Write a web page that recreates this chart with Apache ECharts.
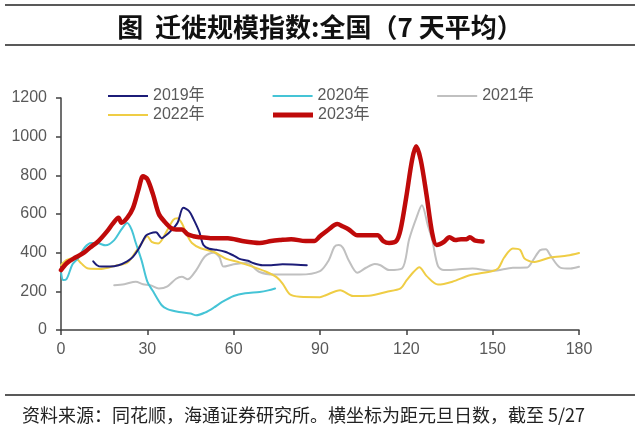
<!DOCTYPE html>
<html><head><meta charset="utf-8">
<script src="https://cdn.jsdelivr.net/npm/echarts@6/dist/echarts.min.js"></script>
<style>html,body{margin:0;padding:0;background:#fff}#c{width:640px;height:429px}</style>
</head><body><div id="c"></div>
<script>
const titleText = '图  迁徙规模指数:全国（7 天平均）';
const footerText = '资料来源：同花顺，海通证券研究所。横坐标为距元旦日数，截至 5/27';
const seriesNames = ['2019年','2020年','2021年','2022年','2023年'];

const days2019 = [11.2,12.5,14,17,20,23,25,27,29.5,31,33,35,36.5,38,40.5,42.5,44.5,46,48,49.5,51.5,54,57,60,62,65,67,70,73,77,82,85.4];
const vals2019 = [355,335,328,328,335,355,378,420,488,500,505,475,490,510,555,632,615,575,510,440,420,415,405,385,368,358,345,335,335,340,338,335];

const days2020 = [0,0.8,2,4,6,8.3,10.5,12.5,15.5,18.5,21,23,24.5,26,28,30,32,35,37,41,45,47,50,53,56,60,64,69,72,74.4];
const vals2020 = [300,258,265,340,372,428,450,450,438,465,520,553,520,450,360,250,200,128,108,93,85,76,90,115,145,176,190,197,205,215];

const days2021 = [18.5,22,26,28.5,31,34,37,40,42,44,47,50,53,55,56.5,60,64.5,69,74,83,90,93,95,96.5,98,100,103,106,109,111,114,118.5,121,123.5,125.4,127.5,129,131,133,137.5,143,150,157,162,164,166.5,168.5,170,173.5,177,180];
const vals2021 = [232,237,250,237,232,215,226,265,275,262,310,380,400,378,328,340,347,300,287,287,305,360,430,440,425,360,296,322,342,335,310,318,470,580,645,540,465,330,310,313,318,306,322,323,360,413,418,387,323,318,327];

const days2022 = [0,2,5,7,9.5,14,19,23,26,28,30,31.5,33.8,36.5,39,40.5,42,43.7,45.5,48.5,53,57.5,62,67,71.5,75,77,79.5,83,90,92,97,101.5,107,113,118,120,122.5,124.5,127,131,136,142,150,152,154,157,159.5,161,163,164.5,170,176,180];
const vals2022 = [335,362,372,345,318,316,333,348,405,448,485,456,448,505,570,578,552,495,450,423,405,368,350,325,300,272,240,185,172,170,180,206,176,177,197,215,255,300,325,280,235,250,283,305,320,375,422,415,370,355,352,375,385,398];

const days2023 = [0,2,5,8,10,13,16,18,20,21,23,25,27,28.5,30,32,34,36,38,40,42,44,46,48,52,58,63,69,73,76,80,85,88,90,93,96,98,100,103,106,110,112,114,116.5,118,120,122,123.4,125,127,129,130.5,133,135,137,139,141,142,144,146.5];
const vals2023 = [310,345,375,400,425,460,510,550,580,555,580,630,730,795,780,700,600,560,530,520,520,495,485,480,475,475,460,450,460,465,470,460,460,485,520,548,535,520,490,490,490,460,450,460,520,690,880,950,880,700,500,440,455,480,465,470,470,480,462,458];

const xTicks = {min:0, max:180, interval:30};
const yTicks = {min:0, max:1200, interval:200};

function zip(xs, ys){ return xs.map((x,i)=>[x, ys[i]]); }

const colors = {'2019年':'#1c1c78','2020年':'#45c4d6','2021年':'#c0c0c0','2022年':'#efcd45','2023年':'#bf0a0a'};
const widths = {'2019年':2,'2020年':2,'2021年':2,'2022年':2,'2023年':4.5};
const dataMap = {
  '2019年': zip(days2019, vals2019),
  '2020年': zip(days2020, vals2020),
  '2021年': zip(days2021, vals2021),
  '2022年': zip(days2022, vals2022),
  '2023年': zip(days2023, vals2023)
};
const drawOrder = ['2021年','2022年','2020年','2019年','2023年'];

const chart = echarts.init(document.getElementById('c'), null, {renderer:'canvas'});
const labelFont = {fontFamily:'Liberation Sans, Arial, Noto Sans CJK SC', fontSize:16, color:'#595959'};
const legendCommon = {
  icon:'rect', itemWidth:40, itemHeight:2, itemGap:68,
  textStyle: labelFont, orient:'horizontal', padding:0
};
chart.setOption({
  animation:false,
  backgroundColor:'#fff',
  title:[
    {text:titleText, left:'center', top:9, textStyle:{fontFamily:'Noto Sans CJK SC', fontWeight:'bold', fontSize:26, color:'#111'}},
    {text:footerText, left:17, top:401, textStyle:{fontFamily:'Noto Sans CJK SC', fontWeight:'normal', fontSize:18, color:'#222'}}
  ],
  legend:[
    Object.assign({}, legendCommon, {left:108, top:88, data:['2019年','2020年','2021年']}),
    Object.assign({}, legendCommon, {left:108, top:107, data:['2022年']}),
    Object.assign({}, legendCommon, {left:273, top:107, itemHeight:5, data:['2023年']})
  ],
  grid:{left:61, right:61, top:98, bottom:99, containLabel:false},
  xAxis:{type:'value', min:xTicks.min, max:xTicks.max, interval:xTicks.interval,
    axisLine:{show:true, onZero:false, lineStyle:{color:'#404040', width:1.5}},
    axisTick:{show:true, inside:false, length:5, lineStyle:{color:'#404040', width:1.5}},
    axisLabel:{margin:12, ...labelFont},
    splitLine:{show:false}},
  yAxis:{type:'value', min:yTicks.min, max:yTicks.max, interval:yTicks.interval,
    axisLine:{show:true, lineStyle:{color:'#404040', width:1.5}},
    axisTick:{show:true, inside:false, length:5, lineStyle:{color:'#404040', width:1.5}},
    axisLabel:{margin:14, formatter:v=>String(v), ...labelFont},
    splitLine:{show:false}},
  graphic:[
    {type:'line', shape:{x1:5,y1:5,x2:635,y2:5}, style:{stroke:'#222', lineWidth:1.5}},
    {type:'line', shape:{x1:5,y1:45,x2:635,y2:45}, style:{stroke:'#222', lineWidth:1.5}},
    {type:'line', shape:{x1:5,y1:395,x2:635,y2:395}, style:{stroke:'#222', lineWidth:1.5}}
  ],
  series: drawOrder.map(n=>({
    name:n, type:'line', data:dataMap[n], showSymbol:false, symbol:'none', smooth:0.3,
    lineStyle:{color:colors[n], width:widths[n], cap:'round', join:'round'},
    itemStyle:{color:colors[n]}
  }))
});
</script></body></html>
